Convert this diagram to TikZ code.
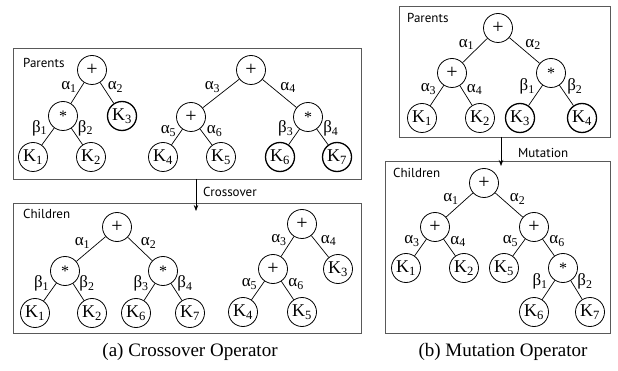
\documentclass[tikz,border=0pt]{standalone}
\usepackage{fontspec}
\setmainfont{Liberation Serif}
\newfontfamily\tagfont{PT Sans}
\usetikzlibrary{arrows.meta}

\tikzset{
  gnode/.style={circle, draw, line width=0.8pt, minimum size=29pt, inner sep=0pt},
  opnode/.style={gnode, font=\fontsize{20}{20}\selectfont},
  mulnode/.style={gnode, font=\fontsize{16}{16}\selectfont},
  leaf/.style={gnode, font=\fontsize{18}{18}\selectfont},
  moved/.style={line width=1.3pt},
  link/.style={line width=0.7pt},
  wl/.style={font=\fontsize{17}{17}\selectfont, inner sep=0.5pt},
  panel/.style={draw=black!65, line width=0.9pt},
  tag/.style={font=\tagfont\fontsize{13}{13}\selectfont, anchor=west, inner sep=0pt},
  flow/.style={line width=0.7pt, -{Stealth[length=6pt,width=4.5pt]}},
  caption/.style={font=\fontsize{19}{19}\selectfont}
}
\newcommand{\Kx}[1]{K\textsubscript{#1}}
\newcommand{\al}[1]{α\textsubscript{#1}}
\newcommand{\be}[1]{β\textsubscript{#1}}

\begin{document}
\begin{tikzpicture}[x=1pt, y=-1pt]
\useasboundingbox (0,0) rectangle (618,371);

% ---------- panel frames ----------
\draw[panel] (13,48) rectangle (361,179);
\draw[panel] (13,203) rectangle (361,333);
\draw[panel] (399,6) rectangle (610,137);
\draw[panel] (385,161) rectangle (610,333);

\node[tag] (tpa) at (23,63) {Parents};
\node[tag] (tca) at (23,214) {Children};
\node[tag] (tpb) at (407,18) {Parents};
\node[tag] (tcb) at (393,173) {Children};

% ---------- crossover: parents ----------
\node[opnode]  (pAr)  at (92,70)  {+};
\node[mulnode] (pAm)  at (63,116) {*};
\node[leaf,moved] (pAk3) at (122,116) {\Kx{3}};
\node[leaf]    (pAk1) at (33,157) {\Kx{1}};
\node[leaf]    (pAk2) at (91,157) {\Kx{2}};

\node[opnode]  (pBr)  at (251,70)  {+};
\node[opnode]  (pBp)  at (191,117) {+};
\node[mulnode] (pBm)  at (308,117) {*};
\node[leaf]    (pBk4) at (163,157) {\Kx{4}};
\node[leaf]    (pBk5) at (221,157) {\Kx{5}};
\node[leaf,moved] (pBk6) at (280,157) {\Kx{6}};
\node[leaf,moved] (pBk7) at (337,157) {\Kx{7}};

\draw[link] (pAr) -- node[wl, above left]  {\al{1}} (pAm);
\draw[link] (pAr) -- node[wl, above right] {\al{2}} (pAk3);
\draw[link] (pAm) -- node[wl, above left]  {\be{1}} (pAk1);
\draw[link] (pAm) -- node[wl, above right] {\be{2}} (pAk2);
\draw[link] (pBr) -- node[wl, above left]  {\al{3}} (pBp);
\draw[link] (pBr) -- node[wl, above right] {\al{4}} (pBm);
\draw[link] (pBp) -- node[wl, above left]  {\al{5}} (pBk4);
\draw[link] (pBp) -- node[wl, above right] {\al{6}} (pBk5);
\draw[link] (pBm) -- node[wl, above left]  {\be{3}} (pBk6);
\draw[link] (pBm) -- node[wl, above right] {\be{4}} (pBk7);

% ---------- crossover: children ----------
\node[opnode]  (cAr)  at (117,227) {+};
\node[mulnode] (cAm1) at (65,271)  {*};
\node[mulnode] (cAm2) at (163,271) {*};
\node[leaf]    (cAk1) at (35,313)  {\Kx{1}};
\node[leaf]    (cAk2) at (92,313)  {\Kx{2}};
\node[leaf]    (cAk6) at (136,313) {\Kx{6}};
\node[leaf]    (cAk7) at (190,313) {\Kx{7}};

\node[opnode]  (cBr)  at (302,224) {+};
\node[opnode]  (cBp)  at (273,269) {+};
\node[leaf]    (cBk3) at (338,269) {\Kx{3}};
\node[leaf]    (cBk4) at (243,312) {\Kx{4}};
\node[leaf]    (cBk5) at (302,312) {\Kx{5}};

\draw[link] (cAr)  -- node[wl, above left]  {\al{1}} (cAm1);
\draw[link] (cAr)  -- node[wl, above right] {\al{2}} (cAm2);
\draw[link] (cAm1) -- node[wl, above left]  {\be{1}} (cAk1);
\draw[link] (cAm1) -- node[wl, above right] {\be{2}} (cAk2);
\draw[link] (cAm2) -- node[wl, above left]  {\be{3}} (cAk6);
\draw[link] (cAm2) -- node[wl, above right] {\be{4}} (cAk7);
\draw[link] (cBr)  -- node[wl, above left]  {\al{3}} (cBp);
\draw[link] (cBr)  -- node[wl, above right] {\al{4}} (cBk3);
\draw[link] (cBp)  -- node[wl, above left]  {\al{5}} (cBk4);
\draw[link] (cBp)  -- node[wl, above right] {\al{6}} (cBk5);

% ---------- mutation: parent ----------
\node[opnode]  (mPr)  at (498,28)  {+};
\node[opnode]  (mPp)  at (452,73)  {+};
\node[mulnode] (mPm)  at (551,73)  {*};
\node[leaf]    (mPk1) at (422,118) {\Kx{1}};
\node[leaf]    (mPk2) at (480,118) {\Kx{2}};
\node[leaf,moved] (mPk3) at (520,118) {\Kx{3}};
\node[leaf,moved] (mPk4) at (582,118) {\Kx{4}};

\draw[link] (mPr) -- node[wl, above left]  {\al{1}} (mPp);
\draw[link] (mPr) -- node[wl, above right] {\al{2}} (mPm);
\draw[link] (mPp) -- node[wl, above left]  {\al{3}} (mPk1);
\draw[link] (mPp) -- node[wl, above right] {\al{4}} (mPk2);
\draw[link] (mPm) -- node[wl, above left]  {\be{1}} (mPk3);
\draw[link] (mPm) -- node[wl, above right] {\be{2}} (mPk4);

% ---------- mutation: child ----------
\node[opnode]  (mCr)  at (484,183) {+};
\node[opnode]  (mCp1) at (435,227) {+};
\node[opnode]  (mCp2) at (534,227) {+};
\node[leaf]    (mCk1) at (406,268) {\Kx{1}};
\node[leaf]    (mCk2) at (464,268) {\Kx{2}};
\node[leaf]    (mCk5) at (504,268) {\Kx{5}};
\node[mulnode] (mCm)  at (563,268) {*};
\node[leaf]    (mCk6) at (534,312) {\Kx{6}};
\node[leaf]    (mCk7) at (590,312) {\Kx{7}};

\draw[link] (mCr)  -- node[wl, above left]  {\al{1}} (mCp1);
\draw[link] (mCr)  -- node[wl, above right] {\al{2}} (mCp2);
\draw[link] (mCp1) -- node[wl, above left]  {\al{3}} (mCk1);
\draw[link] (mCp1) -- node[wl, above right] {\al{4}} (mCk2);
\draw[link] (mCp2) -- node[wl, above left]  {\al{5}} (mCk5);
\draw[link] (mCp2) -- node[wl, above right] {\al{6}} (mCm);
\draw[link] (mCm)  -- node[wl, above left]  {\be{1}} (mCk6);
\draw[link] (mCm)  -- node[wl, above right] {\be{2}} (mCk7);

% ---------- operator arrows ----------
\coordinate (xs) at (196,179);
\coordinate (xe) at (196,211);
\draw[flow] (xs) -- (xe);
\node[tag] (xlab) at (203,192) {Crossover};

\coordinate (ms) at (501,137);
\coordinate (me) at (501,166);
\draw[flow] (ms) -- (me);
\node[tag] (mlab) at (518,153) {Mutation};

% ---------- captions ----------
\node[caption] (capa) at (190,352) {(a) Crossover Operator};
\node[caption] (capb) at (503,352) {(b) Mutation Operator};
\end{tikzpicture}
\end{document}
